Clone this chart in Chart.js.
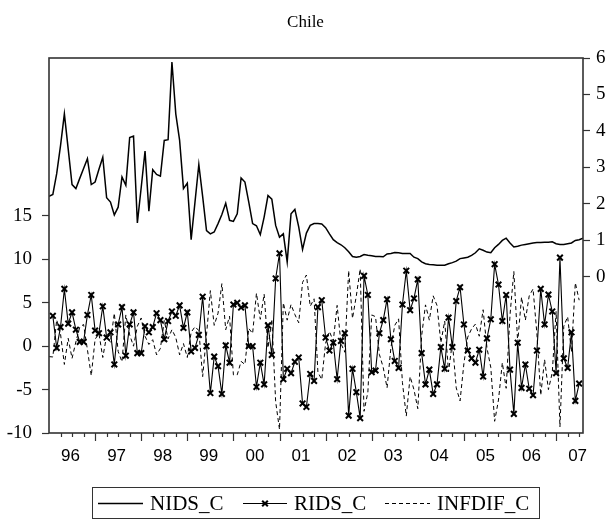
<!DOCTYPE html>
<html>
<head>
<meta charset="utf-8">
<script src="https://cdn.jsdelivr.net/npm/chart.js@4/dist/chart.umd.min.js"></script>
<style>
  html, body { margin: 0; padding: 0; background: #fff; }
  canvas { display: block; }
</style>
</head>
<body>
<canvas id="c" width="611" height="519"></canvas>
<script>
// Monthly observations, index 0 = 1996M1
const yearLabels = ['96', '97', '98', '99', '00', '01', '02', '03', '04', '05', '06', '07'];
const leftTicks = [-10, -5, 0, 5, 10, 15];
const rightTicks = [0, 1, 2, 3, 4, 5, 6];

// Nominal interest differential (right axis)
const nidsC = [
  2.21, 2.26, 2.83, 3.6, 4.47, 3.5, 2.53, 2.42, 2.7, 2.97, 3.24, 2.53,
  2.6, 2.95, 3.28, 2.17, 2.05, 1.70, 1.91, 2.74, 2.51, 3.82, 3.86, 1.48,
  2.45, 3.45, 1.80, 2.94, 2.81, 2.76, 3.74, 3.76, 5.89, 4.47, 3.74, 2.42,
  2.57, 1.02, 2.05, 3.08, 2.2, 1.27, 1.18, 1.23, 1.46, 1.71, 2.02, 1.55,
  1.52, 1.73, 2.71, 2.60, 2.05, 1.46, 1.40, 1.16, 1.64, 2.23, 2.13, 1.41,
  1.09, 1.18, 0.41, 1.73, 1.85, 1.37, 0.75, 1.20, 1.41, 1.46, 1.46, 1.45,
  1.35, 1.18, 1.02, 0.94, 0.88, 0.80, 0.69, 0.56, 0.54, 0.56, 0.61, 0.59,
  0.58, 0.56, 0.56, 0.55, 0.63, 0.64, 0.67, 0.66, 0.64, 0.64, 0.64, 0.54,
  0.50, 0.41, 0.36, 0.34, 0.33, 0.32, 0.32, 0.32, 0.36, 0.39, 0.43, 0.50,
  0.52, 0.54, 0.59, 0.66, 0.77, 0.73, 0.68, 0.66, 0.80, 0.89, 1.00, 1.06,
  0.93, 0.82, 0.84, 0.87, 0.89, 0.91, 0.93, 0.94, 0.94, 0.95, 0.95, 0.96,
  0.91, 0.89, 0.89, 0.91, 0.93, 1.00, 1.02, 1.06
];

// Real interest differential (left axis)
const ridsC = [
  null, 3.5, -0.2, 2.2, 6.6, 2.6, 3.9, 1.9, 0.5, 0.5, 3.6, 5.9,
  1.8, 1.5, 4.6, 1.0, 1.6, -2.1, 2.5, 4.5, -1.1, 2.5, 3.9, -0.8,
  -0.8, 2.3, 1.6, 2.2, 3.8, 3.0, 0.8, 2.9, 4.0, 3.5, 4.7, 2.1,
  3.9, -0.6, -0.2, 1.3, 5.7, 0.0, -5.4, -1.2, -2.3, -5.5, 0.1, -1.9,
  4.8, 5.0, 4.45, 4.7, 0.0, 0.0, -4.7, -1.9, -4.4, 2.4, -1.0, 7.8,
  10.7, -3.8, -2.6, -3.1, -1.8, -1.3, -6.6, -7.0, -3.2, -4.0, 4.5, 5.3,
  1.0, -0.5, 0.4, -3.8, 0.6, 1.5, -8.0, -2.6, -5.3, -8.3, 8.1, 5.9,
  -3.0, -2.8, 1.5, 3.0, 5.4, 0.8, -1.7, -2.5, 4.8, 8.7, 4.15, 5.5,
  7.7, -0.8, -4.4, -2.7, -5.5, -4.4, -0.1, -2.6, 3.3, -0.1, 5.2, 6.8,
  2.5, -0.5, -1.4, -1.9, -0.4, -3.5, 0.9, 3.1, 9.45, 7.1, 2.9, 5.9,
  -2.7, -7.8, 0.4, -4.8, -2.1, -4.9, -5.65, -0.5, 6.6, 2.5, 5.95, 4.0,
  -3.1, 10.2, -1.4, -2.5, 1.6, -6.3, -4.3, null
];

// Inflation differential (left axis)
const infdifC = [
  -1.2, -1.24, 3.03, 1.4, -2.1, 0.9, -1.4, 0.5, 2.2, 2.5, -0.4, -3.4,
  0.8, 1.45, -1.3, 1.2, 0.45, 3.8, -0.6, -1.8, 3.6, 1.3, 0.0, 2.3,
  3.25, 1.15, 0.2, 0.75, -1.0, -0.25, 2.95, 0.85, 1.9, 1.0, -1.0, 0.3,
  -1.3, 1.6, 2.25, 1.8, -3.5, 1.3, 6.4, 2.4, 3.8, 7.2, 1.9, 3.45,
  -3.3, -3.3, -1.75, -2.1, 2.05, 1.46, 6.1, 3.1, 6.0, -0.2, 3.1, -6.4,
  -9.6, 5.0, 3.0, 4.8, 3.65, 2.7, 7.35, 8.2, 4.6, 5.46, -3.0, -3.85,
  0.35, 1.7, 0.6, 4.7, 0.3, -0.7, 8.7, 3.2, 5.8, 8.9, -7.5, -5.3,
  3.6, 3.4, -0.95, -2.45, -4.8, -0.15, 2.4, 3.15, -4.2, -8.05, -3.5, -5.0,
  -7.2, 1.2, 4.76, 3.0, 5.8, 4.7, 0.4, 2.9, -2.95, 0.5, -4.8, -6.3,
  -2.0, 1.05, 2.0, 2.55, 1.15, 4.2, -0.2, -2.45, -8.65, -6.2, -1.9, -4.85,
  3.6, 8.6, 0.45, 5.65, 3.0, 5.8, 6.6, 1.45, -5.65, -1.55, -5.0, -3.05,
  4.0, -9.3, 2.3, 3.4, -0.65, 7.3, 5.3, null
];

const toPoints = arr => arr.map((v, j) => ({ x: j, y: v })).filter(p => p.y !== null);

const SERIF = "'Liberation Serif', 'Times New Roman', serif";
const SANS = "'Liberation Sans', Arial, sans-serif";
const INK = '#000';
const FRAME = '#333';

// Frame around the plot, quarterly/yearly tick marks on the date axis, and the boxed legend
const decorations = {
  id: 'decorations',
  afterDraw(chart) {
    const { ctx, chartArea: a } = chart;
    const xs = chart.scales.x;
    ctx.save();

    // tick marks below the date axis: long at year starts, short at quarters
    ctx.strokeStyle = FRAME;
    ctx.lineWidth = 1.2;
    for (let m = 3; m < xs.max; m += 3) {
      const px = Math.round(xs.getPixelForValue(m)) + 0.5;
      const len = (m % 12 === 0) ? 8 : 4;
      ctx.beginPath();
      ctx.moveTo(px, a.bottom);
      ctx.lineTo(px, a.bottom + len);
      ctx.stroke();
    }

    // plot frame
    ctx.lineWidth = 1.6;
    ctx.strokeRect(a.left, a.top, a.right - a.left, a.bottom - a.top);

    // legend
    const ds = chart.data.datasets;
    const ly = 503;
    ctx.lineWidth = 1;
    ctx.strokeStyle = FRAME;
    ctx.strokeRect(92.5, 487.5, 447, 31);

    ctx.font = '21px ' + SERIF;
    ctx.fillStyle = INK;
    ctx.textBaseline = 'middle';
    ctx.textAlign = 'left';

    const items = [
      { d: ds[0], x0: 98, x1: 143, tx: 150 },
      { d: ds[1], x0: 243, x1: 287, tx: 294 },
      { d: ds[2], x0: 385, x1: 430, tx: 437 }
    ];
    items.forEach(it => {
      ctx.save();
      ctx.strokeStyle = INK;
      ctx.lineWidth = it.d.borderWidth;
      ctx.setLineDash(it.d.borderDash || []);
      ctx.beginPath();
      ctx.moveTo(it.x0, ly + 0.5);
      ctx.lineTo(it.x1, ly + 0.5);
      ctx.stroke();
      if (it.d.pointRadius) {
        ctx.setLineDash([]);
        ctx.lineWidth = it.d.pointBorderWidth;
        Chart.helpers.drawPoint(ctx, {
          pointStyle: it.d.pointStyle,
          radius: it.d.pointRadius,
          borderWidth: it.d.pointBorderWidth,
          rotation: 0
        }, (it.x0 + it.x1) / 2, ly + 0.5);
      }
      ctx.restore();
      ctx.fillText(it.d.label, it.tx, ly + 1);
    });
    ctx.restore();
  }
};

new Chart(document.getElementById('c'), {
  type: 'line',
  data: {
    datasets: [
      {
        label: 'NIDS_C',
        data: toPoints(nidsC),
        yAxisID: 'yR',
        borderColor: INK,
        borderWidth: 1.5,
        pointRadius: 0,
        tension: 0,
        fill: false
      },
      {
        label: 'RIDS_C',
        data: toPoints(ridsC),
        yAxisID: 'yL',
        borderColor: INK,
        borderWidth: 1.1,
        pointStyle: 'crossRot',
        pointRadius: 4,
        pointBorderWidth: 2,
        pointBorderColor: INK,
        pointBackgroundColor: INK,
        tension: 0,
        fill: false
      },
      {
        label: 'INFDIF_C',
        data: toPoints(infdifC),
        yAxisID: 'yL',
        borderColor: INK,
        borderWidth: 1,
        borderDash: [4, 3],
        pointRadius: 0,
        tension: 0,
        fill: false
      }
    ]
  },
  options: {
    responsive: false,
    animation: false,
    devicePixelRatio: 1,
    layout: { padding: { left: 0, right: 0, top: 0, bottom: 46 } },
    plugins: {
      legend: { display: false },
      tooltip: { enabled: false },
      title: {
        display: true,
        text: 'Chile',
        color: INK,
        font: { family: SERIF, size: 17, weight: 'normal' },
        padding: { top: 12, bottom: 25.6 }
      }
    },
    scales: {
      x: {
        type: 'linear',
        min: 0,
        max: 139,
        grid: { display: false, drawTicks: false },
        border: { display: false },
        ticks: {
          color: INK,
          padding: 13,
          autoSkip: false,
          maxRotation: 0,
          font: { family: SANS, size: 17 },
          callback: (v, i) => yearLabels[i]
        },
        afterBuildTicks: s => { s.ticks = yearLabels.map((_, k) => ({ value: 12 * k + 5.6 })); },
        afterFit: s => { s.height = 40; }
      },
      yL: {
        position: 'left',
        min: -10,
        max: 33.2,
        grid: { drawOnChartArea: false, drawTicks: true, tickLength: 7, tickColor: FRAME, tickWidth: 1.2 },
        border: { display: false },
        ticks: { color: INK, padding: 10, font: { family: SERIF, size: 19 } },
        afterBuildTicks: s => { s.ticks = leftTicks.map(v => ({ value: v })); },
        afterFit: s => { s.width = 49; }
      },
      yR: {
        position: 'right',
        min: -4.28,
        max: 6,
        grid: { drawOnChartArea: false, drawTicks: true, tickLength: 7, tickColor: FRAME, tickWidth: 1.2 },
        border: { display: false },
        ticks: { color: INK, padding: 6, font: { family: SERIF, size: 19 } },
        afterBuildTicks: s => { s.ticks = rightTicks.map(v => ({ value: v })); },
        afterFit: s => { s.width = 28; }
      }
    }
  },
  plugins: [decorations]
});
</script>
</body>
</html>
